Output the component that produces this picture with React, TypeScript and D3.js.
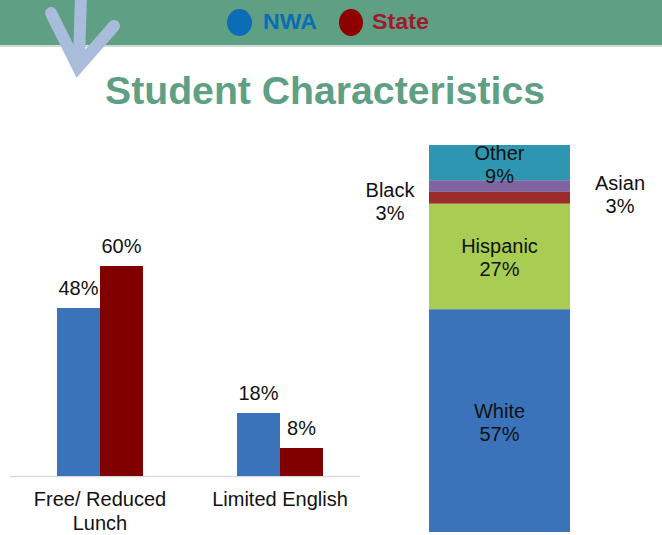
import * as d3 from 'd3'

const categories = ['Free/ Reduced\nLunch', 'Limited English']
const seriesNames = ['NWA', 'State']
const nwaValues = [48, 18]
const stateValues = [60, 8]

const groups = ['White', 'Hispanic', 'Black', 'Asian', 'Other']
const groupValues = [57, 27, 3, 3, 9]

const W = 662
const H = 535
const FONT = '"Liberation Sans", Arial, sans-serif'
const GREEN = '#5fa084'

const barColors = ['#3a73b9', '#800000']
const stackColors = ['#3a73b9', '#a8cd52', '#9c2b2b', '#8064a0', '#2e96b0']

export default function App() {
  // grouped bars
  const baseY = 476
  const x0 = d3.scalePoint<string>().domain(categories).range([10, 370]).padding(0.5)
  const x1 = d3.scaleBand<string>().domain(seriesNames).range([-43, 43]).padding(0)
  const y = d3.scaleLinear().domain([0, 100]).range([baseY, baseY - 350])
  const seriesValues = [nwaValues, stateValues]

  // stacked bar
  const row: Record<string, number> = {}
  groups.forEach((g, i) => (row[g] = groupValues[i]))
  const stacked = d3.stack<Record<string, number>>().keys(groups)([row])
  const total = d3.sum(groupValues)
  const yS = d3.scaleLinear().domain([0, total]).range([532, 145])
  const sx0 = 429
  const sx1 = 570

  return (
    <svg width={W} height={H} style={{ position: 'absolute', left: 0, top: 0 }} fontFamily={FONT}>
      <rect x={0} y={0} width={W} height={H} fill="#fff" />
      {/* header band */}
      <rect x={0} y={0} width={W} height={45} fill={GREEN} />
      <rect x={0} y={45} width={W} height={2} fill="#c9ddd3" />

      {/* legend */}
      <ellipse cx={239.5} cy={22.5} rx={12.5} ry={13.5} fill="#0b6db5" />
      <text x={263} y={29} fontSize={22} fontWeight="bold" fill="#0b6db5" textLength={54} lengthAdjust="spacingAndGlyphs">
        NWA
      </text>
      <ellipse cx={351} cy={22.5} rx={12} ry={13.5} fill="#8f0000" />
      <text x={372} y={29} fontSize={22} fontWeight="bold" fill="#9c1c2c" textLength={57} lengthAdjust="spacingAndGlyphs">
        State
      </text>

      {/* arrow */}
      <g stroke="#a9bcdc" strokeWidth={12} fill="none" strokeLinecap="round">
        <path d="M81,-5 L79,60" />
        <path d="M51,13 L78,67 L114,26" strokeLinejoin="miter" strokeMiterlimit={10} />
      </g>

      {/* title */}
      <text x={105} y={104} fontSize={38} fontWeight="bold" fill={GREEN} textLength={440} lengthAdjust="spacingAndGlyphs">
        Student Characteristics
      </text>

      {/* grouped bars */}
      <line x1={10} x2={360} y1={baseY + 0.5} y2={baseY + 0.5} stroke="#d9d9d9" strokeWidth={1.5} />
      {categories.map((c, ci) => (
        <g key={c}>
          {seriesNames.map((s, si) => {
            const v = seriesValues[si][ci]
            const bx = (x0(c) ?? 0) + (x1(s) ?? 0)
            return (
              <g key={s}>
                <rect x={bx} y={y(v)} width={x1.bandwidth()} height={baseY - y(v)} fill={barColors[si]} />
                <text x={bx + x1.bandwidth() / 2} y={y(v) - 13} fontSize={20} textAnchor="middle" fill="#111">
                  {v}%
                </text>
              </g>
            )
          })}
          {c.split('\n').map((line, li) => (
            <text key={li} x={x0(c)} y={506 + li * 24} fontSize={20} textAnchor="middle" fill="#111">
              {line}
            </text>
          ))}
        </g>
      ))}

      {/* stacked bar */}
      {stacked.map((layer, i) => {
        const d = layer[0]
        const top = yS(d[1])
        const bot = yS(d[0])
        const mid = (top + bot) / 2
        const name = groups[i]
        let lx = (sx0 + sx1) / 2
        let l1 = mid - 3
        if (name === 'Black') {
          lx = 390
          l1 = 197
        } else if (name === 'Asian') {
          lx = 620
          l1 = 190
        }
        return (
          <g key={name}>
            <rect x={sx0} y={top} width={sx1 - sx0} height={bot - top} fill={stackColors[i]} />
            <text x={lx} y={l1} fontSize={20} textAnchor="middle" fill="#111">
              {name}
            </text>
            <text x={lx} y={l1 + 23} fontSize={20} textAnchor="middle" fill="#111">
              {groupValues[i]}%
            </text>
          </g>
        )
      })}
    </svg>
  )
}
